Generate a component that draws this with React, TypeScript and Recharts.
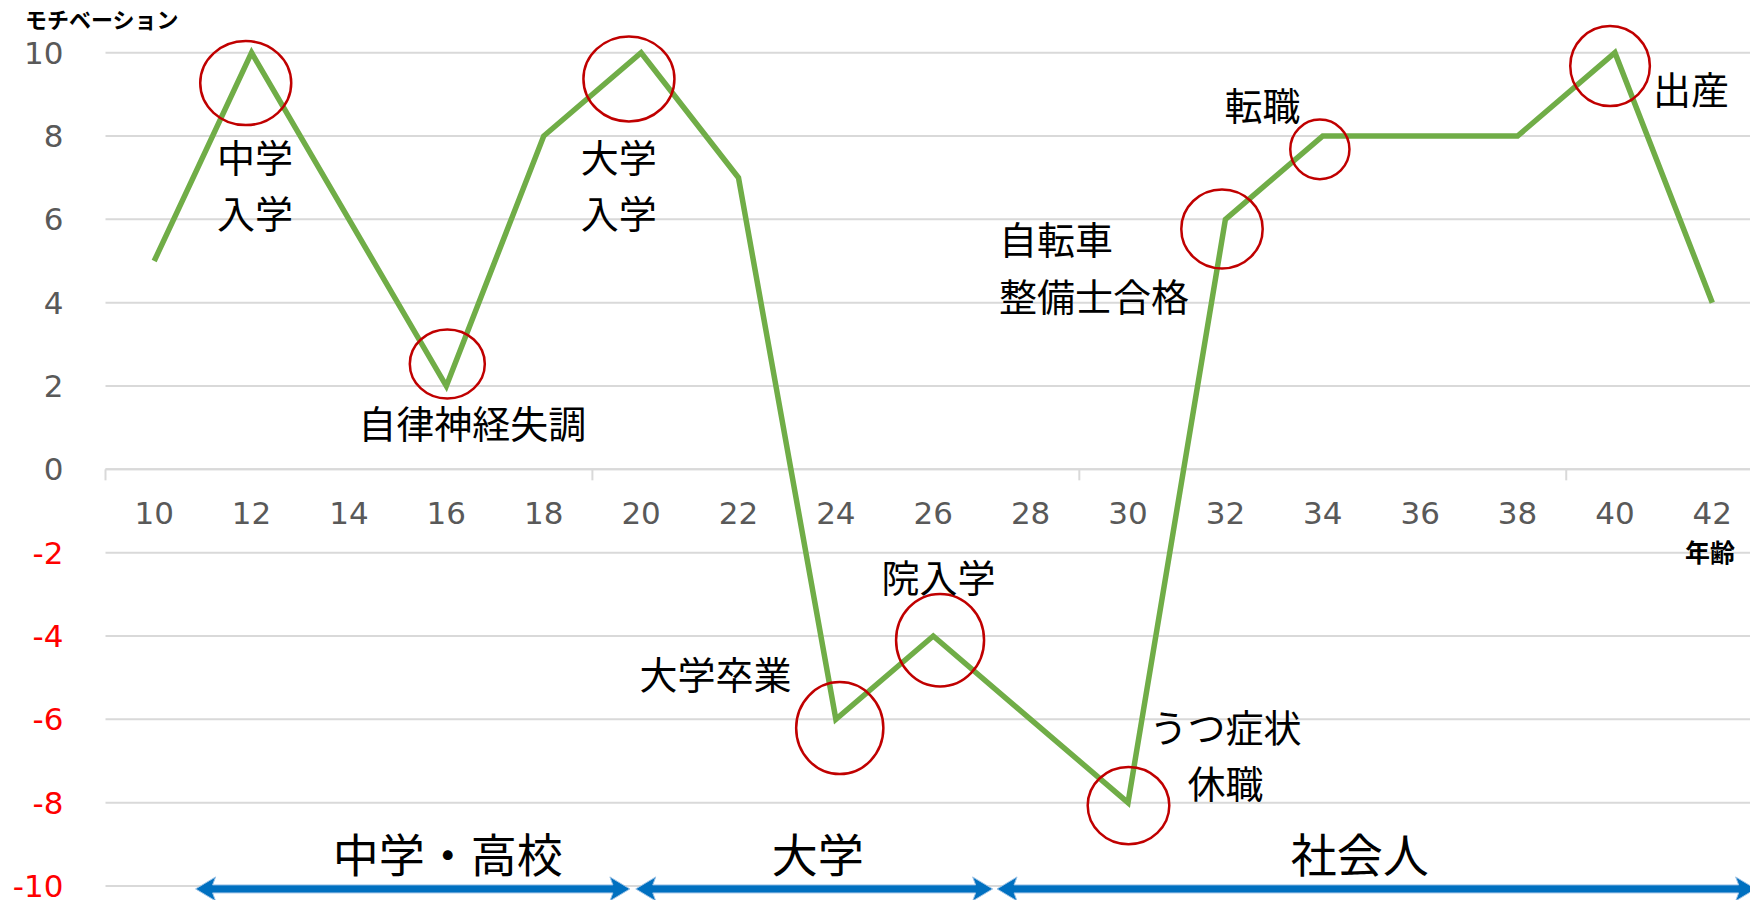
import React from 'react'
import {
  LineChart,
  Line,
  XAxis,
  YAxis,
  CartesianGrid,
  ReferenceLine,
  ReferenceDot,
} from 'recharts'

// ---- data ----
const AGES = [10, 12, 14, 16, 18, 20, 22, 24, 26, 28, 30, 32, 34, 36, 38, 40, 42]
const MOTIVATION = [5, 10, 6, 2, 8, 10, 7, -6, -4, -6, -8, 6, 8, 8, 8, 10, 4]
const Y_TICKS = [-10, -8, -6, -4, -2, 0, 2, 4, 6, 8, 10]
const AXIS_MARKS = [9, 19, 29, 39]

// events (text) and where they sit, in chart units (age, motivation)
const EVENT_LABELS = [
  ['中学', '入学'],
  ['自律神経失調'],
  ['大学', '入学'],
  ['大学卒業'],
  ['院入学'],
  ['うつ症状', '休職'],
  ['自転車', '整備士合格'],
  ['転職'],
  ['出産'],
]
const EVENT_AT = [
  [12.07, 7.47],
  [16.53, 1.16],
  [19.54, 7.47],
  [21.53, -4.87],
  [26.11, -2.54],
  [32.0, -6.23],
  [27.35, 5.53],
  [32.76, 8.77],
  [41.56, 9.16],
]

// red rings around turning points (centre in chart units)
const RING_AT = [
  [11.88, 9.27],
  [16.02, 2.53],
  [19.75, 9.37],
  [24.08, -6.21],
  [26.14, -4.1],
  [30.01, -8.07],
  [31.93, 5.77],
  [33.94, 7.68],
  [39.9, 9.68],
]
const RING_SIZE = [
  [45.5, 42],
  [37.5, 34.5],
  [45.5, 42.5],
  [43.6, 46],
  [44, 46.3],
  [40.8, 38.7],
  [40.7, 39.5],
  [29.6, 29.8],
  [39.8, 40],
]

// life periods shown as arrows along the bottom
const PERIOD_LABELS = ['中学・高校', '大学', '社会人']
const PERIOD_SPANS = [
  [10.85, 19.77],
  [19.89, 27.22],
  [27.31, 42.89],
]
const PERIOD_LABEL_AGE = [16.03, 23.63, 34.76]
const PERIOD_ARROW_LEVEL = -10.07
const PERIOD_LABEL_LEVEL = -9.19

const chartData = AGES.map((age, i) => ({ age, value: MOTIVATION[i] }))

// ---- layout ----
const WIDTH = 1761
const HEIGHT = 908
const PLOT_TOP = 52.7
const PLOT_BOTTOM = 886
const Y0 = (PLOT_TOP + PLOT_BOTTOM) / 2
const JP = '"Noto Sans CJK JP", "Noto Sans", sans-serif'
const NUM = '"DejaVu Sans", Verdana, sans-serif'
const NOTE_SIZE = 38

function AgeTick({ x, payload }: any) {
  const v = payload.value
  if (AXIS_MARKS.includes(v)) {
    return <line x1={x} x2={x} y1={Y0} y2={Y0 + 11} stroke="#d9d9d9" strokeWidth={2} />
  }
  return (
    <text x={x} y={Y0 + 44} textAnchor="middle" dominantBaseline="central" fontFamily={NUM} fontSize={31} fill="#595959">
      {v}
    </text>
  )
}

function LevelTick({ x, y, payload }: any) {
  const v = payload.value
  return (
    <text x={x} y={y} textAnchor="end" dominantBaseline="central" fontFamily={NUM} fontSize={31} fill={v < 0 ? '#ff0000' : '#595959'}>
      {v}
    </text>
  )
}

function DoubleArrow({ x1, y1, x2 }: any) {
  const h = 20
  const w = 12
  const b = 4
  const y = y1
  const pts = [
    [x1, y],
    [x1 + h, y - w],
    [x1 + h - 3, y - b],
    [x2 - h + 3, y - b],
    [x2 - h, y - w],
    [x2, y],
    [x2 - h, y + w],
    [x2 - h + 3, y + b],
    [x1 + h - 3, y + b],
    [x1 + h, y + w],
  ]
  return <polygon points={pts.map((p) => p.join(',')).join(' ')} fill="#0070c0" stroke="#9dc3e6" strokeWidth={1} />
}

export default function App() {
  return (
    <div style={{ position: 'relative', width: 1758, height: 908, margin: -8, overflow: 'hidden', background: '#fff' }}>
      <LineChart width={WIDTH} height={HEIGHT} data={chartData} margin={{ top: PLOT_TOP, right: 0, bottom: 2, left: 0 }}>
        <CartesianGrid vertical={false} stroke="#d9d9d9" strokeWidth={2} />
        <XAxis
          type="number"
          dataKey="age"
          domain={[9, 43]}
          ticks={[9, ...AGES, 19, 29, 39].sort((a, b) => a - b)}
          interval={0}
          axisLine={false}
          tickLine={false}
          height={20}
          tick={<AgeTick />}
        />
        <YAxis
          type="number"
          domain={[-10, 10]}
          ticks={Y_TICKS}
          interval={0}
          width={105.5}
          axisLine={false}
          tickLine={false}
          tickSize={0}
          tickMargin={42}
          tick={<LevelTick />}
        />
        <ReferenceLine y={0} stroke="#d9d9d9" strokeWidth={2} />
        <Line
          type="linear"
          dataKey="value"
          stroke="#70ad47"
          strokeWidth={5.5}
          dot={false}
          activeDot={false}
          isAnimationActive={false}
        />
        {RING_AT.map(([a, m], i) => (
          <ReferenceDot
            key={`ring-${i}`}
            x={a}
            y={m}
            r={RING_SIZE[i][0]}
            ifOverflow="visible"
            shape={(p: any) => (
              <ellipse cx={p.cx} cy={p.cy} rx={RING_SIZE[i][0]} ry={RING_SIZE[i][1]} fill="none" stroke="#c00000" strokeWidth={2.5} />
            )}
          />
        ))}
        {EVENT_LABELS.map((lines, i) => {
          const leftAligned = lines[0] === '自転車'
          const baseGap = leftAligned ? 55 : 50
          const gap = leftAligned ? 57 : 56
          const mid = (lines.length - 1) / 2
          return (
            <ReferenceDot
              key={`event-${i}`}
              x={EVENT_AT[i][0]}
              y={EVENT_AT[i][1]}
              r={1}
              ifOverflow="visible"
              shape={(p: any) => (
                <g>
                  {lines.map((l, j) => (
                    <text
                      key={j}
                      x={p.cx}
                      y={p.cy + mid * baseGap + (j - mid) * gap}
                      textAnchor={leftAligned ? 'start' : 'middle'}
                      dominantBaseline="central"
                      fontFamily={JP}
                      fontSize={NOTE_SIZE}
                      fill="#000"
                    >
                      {l}
                    </text>
                  ))}
                </g>
              )}
            />
          )
        })}
        {PERIOD_SPANS.map(([a, b], i) => (
          <ReferenceLine
            key={`period-${i}`}
            segment={[
              { x: a, y: PERIOD_ARROW_LEVEL },
              { x: b, y: PERIOD_ARROW_LEVEL },
            ]}
            ifOverflow="visible"
            shape={(p: any) => <DoubleArrow {...p} />}
          />
        ))}
        {PERIOD_LABELS.map((label, i) => (
          <ReferenceDot
            key={`plabel-${i}`}
            x={PERIOD_LABEL_AGE[i]}
            y={PERIOD_LABEL_LEVEL}
            r={1}
            ifOverflow="visible"
            shape={(p: any) => (
              <text x={p.cx} y={p.cy} textAnchor="middle" dominantBaseline="central" fontFamily={JP} fontSize={46} fill="#000">
                {label}
              </text>
            )}
          />
        ))}
      </LineChart>
      <div style={{ position: 'absolute', left: 25, top: 7, fontFamily: JP, fontWeight: 700, fontSize: 22, lineHeight: 1, color: '#000' }}>
        モチベーション
      </div>
      <div style={{ position: 'absolute', left: 1685, top: 539, fontFamily: JP, fontWeight: 700, fontSize: 25, lineHeight: 1, color: '#000' }}>
        年齢
      </div>
    </div>
  )
}
